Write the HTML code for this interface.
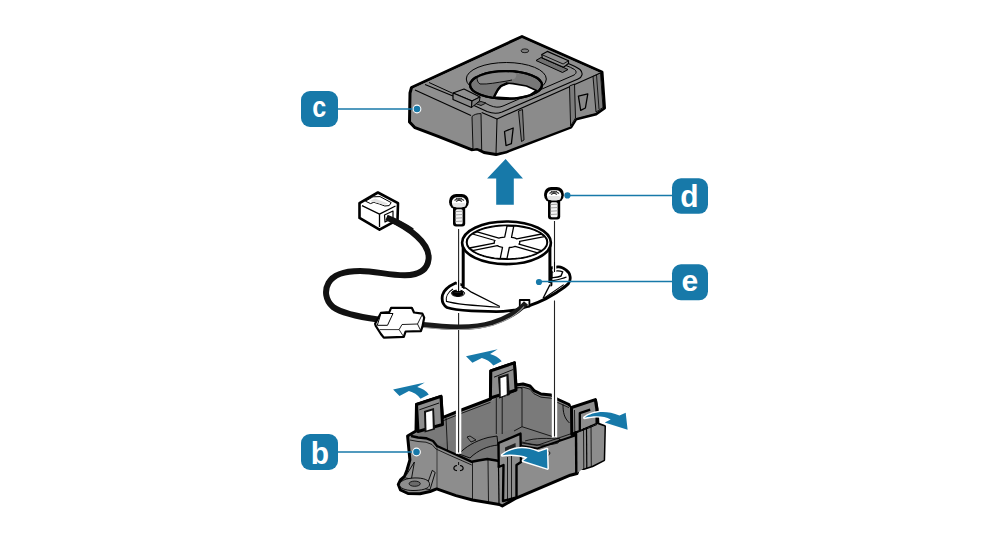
<!DOCTYPE html>
<html><head><meta charset="utf-8">
<style>
html,body{margin:0;padding:0;background:#fff;}
body{width:1000px;height:550px;overflow:hidden;}
svg{display:block;}
.lb{font-family:"Liberation Sans",sans-serif;font-weight:bold;font-size:30px;fill:#fff;}
</style></head><body>
<svg width="1000" height="550" viewBox="0 0 1000 550">
<!-- ===== TOP COVER (c) ===== -->
<g id="cover" stroke="#000" stroke-linejoin="round">
  <polygon points="522,36.5 602,72 604.5,108 596,114 576,119 571,127 524,145 512,149.5 506,152 496,154.5 484,152.5 477,149 471.5,149.7 438.8,136.7 415,127.7 409.5,122 410,93 411.5,87.5" fill="#8c8c8c" stroke-width="3"/>
  <!-- top face -->
  <polygon points="522,38.5 600.5,73 497,119 482,113 471,115.5 415,90 413,88.5" fill="#8f8f8f" stroke="none"/>
  <!-- right face darker -->
  <polygon points="497,119.5 600.5,73.5 603,108 595.5,113 576,118 570.5,126.5 524,144 512,148.5 506,151 496.5,153" fill="#8b8b8b" stroke="none"/>
  <!-- channel left -->
  <path d="M472,116.5 C474,114.5 477,113.5 481,113.6 L481.7,150 L477,148.5 L473,149.2 Z" fill="#808080" stroke-width="0.9"/>
  <line x1="497" y1="119" x2="496" y2="153.5" stroke-width="1"/>
  
  <!-- crease lines -->
  <polyline points="415,90 471,115.5" fill="none" stroke-width="1.1"/>
  <polyline points="481.7,112.5 497,119 600.5,73" fill="none" stroke-width="1.1"/>
  <!-- rim lines -->
  <path d="M425,84.5 L453,96 M473,105 L487,111.5 C492,113.5 497,114 502,112 L578,79 C582.5,77 583.5,73 580,69.5 C576,66.5 571,64.5 566,62.5" fill="none" stroke-width="1.1"/>
  <path d="M429,82.5 L452,93 M486,103.5 L490,105.5 C495,107.5 499,107.8 503,106 L573,75.5 C576.5,74 577,71.5 574.5,69.5 C572,68 569,66.5 566,65.5" fill="none" stroke-width="1"/>
  <!-- hole -->
  <ellipse cx="506.3" cy="79" rx="40" ry="16.5" fill="#8f8f8f" stroke-width="1"/>
  <ellipse cx="506" cy="85" rx="36" ry="13.8" fill="#777" stroke-width="2.2"/>
  <path d="M476,76 C485,72.5 498,71.2 510,71.4 C516,72 518,74 515,78.5 C510,80.5 500,82 492,83.5 C486,84.5 481,84.5 478.5,83 C477,81 476.5,78.5 476,76 Z" fill="#8a8a8a" stroke="none"/>
  <path d="M477,77 C477,80 477.5,82.5 480,84 C488,84.5 497,82.5 507,81 L512,80" fill="none" stroke-width="0.9"/>
  <path d="M494,97 L496,93 L498,89.5 L501,86 L507.5,83.2 L513,83.6 L526.5,86 L536.5,90.5 L530,95 L515,98.5 Z" fill="#fff" stroke="#000" stroke-width="1.6"/>
  <path d="M494,97 L496,93 L498,89.5 L501,86 L507.5,83.2" fill="none" stroke-width="2.4"/>
  <ellipse cx="506" cy="85" rx="36" ry="13.8" fill="none" stroke-width="2.2"/>
  <!-- right face ribs & slots -->
  <path d="M569.5,86 L572,85 L574.5,84 L575.5,118 L570.6,126 Z" fill="#7c7c7c" stroke-width="0.9"/>
  <path d="M593,76.5 L600.5,73 L603,107.5 L596,112 Z" fill="#7c7c7c" stroke-width="0.9"/>
  <line x1="596.5" y1="75" x2="599" y2="109" stroke-width="0.8"/>
  <path d="M518.5,111 L522.5,109.5 L524,140 L521.5,141.5 Z" fill="#7c7c7c" stroke-width="0.9"/>
  <polygon points="504.5,131.5 513.2,128 511.4,143.6 506,145.6" fill="#888" stroke-width="1.3"/>
  <polygon points="578.4,96.2 587.8,93.8 585.4,108 580.7,110.4" fill="#888" stroke-width="1.3"/>
  <!-- right latch -->
  <polygon points="536,60.5 541,57.5 568,69.5 562.5,72.5" fill="#707070" stroke-width="1"/>
  <polygon points="541.8,54.6 547.3,51.4 568.5,60.8 568.5,63.5 563.5,67.2 542.3,58" fill="#8e8e8e" stroke-width="1.2"/>
  <polyline points="541.8,54.6 563.1,64 568.5,60.8 M563.1,64 L563.5,67.2" fill="none" stroke-width="0.9"/>
  <!-- dimple -->
  <ellipse cx="524.9" cy="50.8" rx="3.8" ry="1.9" fill="#7e7e7e" stroke-width="0.8"/>
  
  <!-- left latch -->
  <polygon points="474,103 481,101.5 486,103 481,105.5" fill="#6f6f6f" stroke-width="0.9"/>
  <polygon points="453,93 464,89 480,97 472,101" fill="#8f8f8f" stroke-width="1.2"/>
  <polygon points="453,93 472,101 471.5,107.5 453,99.5" fill="#8a8a8a" stroke-width="1.2"/>
  <polygon points="472,101 480,97 479.5,101 471.5,107.5" fill="#7e7e7e" stroke-width="1"/>
  
</g>
<!-- ===== BLUE UP ARROW ===== -->
<polygon points="505.6,159 523,178.6 513.8,178.6 513.8,204.8 496.2,204.8 496.2,178.6 487.1,178.6" fill="#1779a9"/>





<g id="base" stroke="#000" stroke-linejoin="round">
  <!-- silhouette -->
  <polygon points="407.6,436 416,431 416.5,404.5 441,396.4 442.5,417.7 461.5,410 490.5,399 490.8,370.8 514.4,362.8 516,385 523,384 530,386 534,390.6 541,394 551,395 557,399 569,404.5 570,408 572.5,408 595.6,400.4 597,408.6 598,424 604.5,426.3 603.7,460 592.2,465.8 583.6,468.5 578.6,468.5 577,473.5 570.3,475.2 515,498.6 502.3,506 499.3,504.5 472.5,500 456,495.6 436.7,488.9 430,491.5 420,493.8 408,493.5 400.5,490 398.3,484.5 400.5,480 404.5,476.5 407,470 409.9,459.8" fill="#8d8d8d" stroke-width="3"/>
  <!-- interior back walls -->
  <polygon points="411,436.5 418,433 442.5,420 461.5,412.5 490.5,401.5 516,387.5 523,386.5 530,388.5 534,393 541,396.5 551,397.5 557,401.5 569,406.5 572,410 597,426 577,435 537,448.4 521,445 499,452 496.4,460.5 487.3,459 478.2,460.5 471.8,461.8 437,446.4 434,442" fill="#797979" stroke="none"/>
  <!-- back-right wall (slightly lighter) -->
  <polygon points="522,388 530,388.5 534,393 541,396.5 551,397.5 557,401.5 569,406.5 572,410 573,433 560,439 522,426.7" fill="#7a7a7a" stroke="none"/>
  <!-- floor -->
  <polygon points="436,446 450,441 470,437 498,433.5 522,426.7 560,439 577,435 537,448.4 521,445 499,452 496.4,460.5 487.3,459 478.2,460.5 471.8,461.8" fill="#767676" stroke="none"/>
  <!-- fan seat band -->
  <path d="M459,454 C465,447 475,441 488,437.5 L497,436 L498,445 C488,446 478,450 470,458 Z" fill="#6f6f6f" stroke-width="0.9"/>
  <path d="M467,437 L470,436 L476,440 L471,442 Z" fill="#7a7a7a" stroke-width="0.8"/>
  <path d="M525,441 C535,438 548,437.5 562,440" fill="none" stroke-width="0.8"/>
  <path d="M522,442 C536,446 548,446 558,443 L560,439" fill="#6f6f6f" stroke-width="0.8"/>
  <!-- lip lines -->
  <polyline points="443,420.8 461.5,413.3 490.5,402.3" fill="none" stroke-width="0.8"/>
  <polyline points="516.5,388.2 523,387.2 530,389.2 534,393.8 541,397.2 551,398.2 557,402.2 569,407.7" fill="none" stroke-width="0.8"/>
  <!-- interior vertical lines -->
  <g stroke-width="0.8" fill="none">
    <line x1="446" y1="418" x2="447.5" y2="450"/>
    <line x1="496.3" y1="398" x2="496.3" y2="434"/>
    <line x1="502.2" y1="396" x2="502.2" y2="434"/>
    <line x1="522" y1="388" x2="522" y2="426.7"/>
    <line x1="522" y1="426.7" x2="560" y2="439"/>
    <line x1="522" y1="426.7" x2="514" y2="431"/>
    <path d="M516,388 C519,387 521,387.5 522,388.5"/>
  </g>
  <!-- front walls top edges -->
  <polyline points="411,436 418,437.5 426,438.2 433,441 437,446 448,451 460,456.4 471.8,461.8 478.2,460.5 487.3,459 496.4,460.5 498.5,461" fill="none" stroke-width="2.4"/>
  <polyline points="410,440 418,441.5 426,442.2 432,444.5 436,449 448,454.5 460,459.8 471.8,465" fill="none" stroke-width="0.8"/>
  <polyline points="521.5,446 537,448.6 576.5,435" fill="none" stroke-width="2"/>
  <polyline points="521.5,443 537,445.4 576,432" fill="none" stroke-width="0.8"/>
  <!-- tab A -->
  <polygon points="416.5,404.5 441,396.4 442.5,424.5 418,431.5" fill="#8d8d8d" stroke-width="3"/>
  <line x1="419.3" y1="409.8" x2="439" y2="403" stroke-width="0.9"/>
  <polygon points="424,411 434,408 435,429.5 424.6,432.5" fill="#111" stroke="none"/>
  <polygon points="426,412.5 432.3,410.5 432.8,428.5 426.5,430.5" fill="#fff" stroke="none"/>
  <!-- tab B -->
  <polygon points="490.8,370.8 514.4,362.8 516,390 490.4,398" fill="#8d8d8d" stroke-width="3"/>
  <line x1="494" y1="377.2" x2="513.2" y2="369.5" stroke-width="0.9"/>
  <polygon points="498,376.8 508.5,373.5 509.8,395 499.4,398.3" fill="#111" stroke="none"/>
  <polygon points="500.4,378.3 506.4,376.3 506.8,395.2 500.8,397" fill="#fff" stroke="none"/>
  <line x1="499" y1="398" x2="516" y2="391" stroke-width="0.9"/>
  <!-- tab C -->
  <path d="M563,404.5 C563,412 564,418 569.5,423" fill="none" stroke-width="0.9"/>
  <polygon points="571.5,407.5 595.3,399.6 596.8,409 597,424 581,431 571.8,434.5" fill="#8d8d8d" stroke-width="3"/>
  <path d="M579.8,430 L579.8,413.2 L590.2,409.6" fill="none" stroke-width="2.3"/>
  <line x1="574.5" y1="410" x2="574.8" y2="433" stroke-width="0.8"/>
  <!-- right wall end -->
  <polygon points="576,433 597,424 604.5,426.5 603.7,460 592.2,465.8 583.6,468.5 577,473" fill="#8d8d8d" stroke="none"/>
  <line x1="576" y1="431" x2="576.3" y2="474" stroke-width="2.4"/>
  <line x1="583.5" y1="428" x2="583.8" y2="469" stroke-width="0.8"/>
  <line x1="586.5" y1="427" x2="586.8" y2="468" stroke-width="1.2"/>
  <line x1="591" y1="425" x2="591.3" y2="466" stroke-width="0.8"/>
  <polyline points="576,433 583.5,430 590,427.5 597,424.5" fill="none" stroke-width="1"/>
  <!-- tab D -->
  <polygon points="498.5,443 520.5,433.6 521,462 516.5,465 516.5,497.5 503,501 503.5,465 498.7,467" fill="#8d8d8d" stroke-width="2.4"/>
  <polygon points="505,447.5 515.5,443 515.8,449 505.3,453.5" fill="#222" stroke="none"/>
  <line x1="507.5" y1="457" x2="507.5" y2="499" stroke-width="0.8"/>
  <line x1="511.5" y1="456" x2="511.5" y2="498" stroke-width="0.8"/>
  <!-- front corner & vertical edges -->
  <line x1="498.5" y1="466" x2="499" y2="503" stroke-width="1.2"/>
  <line x1="472.5" y1="462" x2="472.5" y2="500" stroke-width="0.8"/>
  <line x1="488" y1="460" x2="488.5" y2="502" stroke-width="0.8"/>
  <line x1="437" y1="447" x2="437" y2="489" stroke-width="0.6"/>
  <!-- screw marks -->
  <path d="M457,465.5 C453,466 452.5,470 457,470.8 M460,465.5 C464,466 464.5,470 460,470.8" fill="none" stroke-width="1.1"/>
  <line x1="458.6" y1="462" x2="458.6" y2="465" stroke-width="0.9"/>
  <path d="M544,450.5 C540.5,451 540,455 544,455.6 M547,450.5 C550.5,451 551,455 547,455.6" fill="none" stroke-width="0.9"/>
  <!-- gussets near foot -->
  <polygon points="414.4,462 404.7,477.7 411.4,479.2" fill="#939393" stroke-width="0.9"/>
  <polygon points="432.3,470.3 435.2,472.5 430,489.6 425.5,488.9" fill="#939393" stroke-width="0.9"/>
  <!-- foot -->
  <path d="M399.5,484 C401,479.5 410,477.5 418,478 C426,478.5 430,481 429.5,485 C429,489 421,490.5 413,490.5 C405,490.5 399,488 399.5,484 Z" fill="#8d8d8d" stroke-width="0.9"/>
  <ellipse cx="414.7" cy="483.7" rx="5.6" ry="2.6" fill="#6a6a6a" stroke-width="0.8"/>
</g>
<g id="barrows" fill="#1779a9">
  <path d="M393.1,389.5 L424.8,382.4 L417.2,387.1 Q424.5,389 428.8,394.4 L420.5,398.7 Q416,393 408.9,391.1 L399.5,395.9 Z"/>
  <path transform="translate(72.9,-33.2)" d="M393.1,389.5 L424.8,382.4 L417.2,387.1 Q424.5,389 428.8,394.4 L420.5,398.7 Q416,393 408.9,391.1 L399.5,395.9 Z"/>
  <g stroke="#fff" stroke-width="3" paint-order="stroke" stroke-linejoin="round">
  <path d="M584.5,417.7 C592,412 605,409.5 619.5,415.5 L625.7,412.8 L627.6,429.7 L604.7,422.4 L610.7,419.4 C604,415.5 594,415.5 584.5,417.7 Z"/>
  <path d="M502.3,455.2 C510,449 522,445 538.6,451.9 L546.9,449.2 L547.4,468.4 L523.2,460.7 L527.6,457.4 C520,454.5 510,454 502.3,455.2 Z"/>
  </g>
</g>
<g id="guides" stroke-linecap="butt">
  <g stroke="#fff" stroke-width="5.4">
    <line x1="458.6" y1="314" x2="458.6" y2="453.7"/>
    <line x1="554.5" y1="300.5" x2="554.5" y2="437.6"/>
  </g>
  <g stroke="#222" stroke-width="1.1">
    <line x1="458.6" y1="229" x2="458.6" y2="293"/>
    <line x1="458.6" y1="313" x2="458.6" y2="452.5"/>
    <line x1="554.5" y1="221" x2="554.5" y2="272"/>
    <line x1="554.5" y1="300.5" x2="554.5" y2="436.5"/>
  </g>
</g>
<g id="fan" stroke="#000" stroke-linejoin="round">
  <path d="M455.6,283 C449,286 444,289.5 442.5,295 C441.5,300 443,305 447,307.5 C452,309.5 462,310.3 471.4,310.8 L496.5,311.6 C505,311.5 512,310.5 516,309.8 C530,306 545,300 555,293.5 C561,289.5 566,286.5 568.5,283.5 C571.5,279.5 570.5,273 566,270 C563,267.5 560,266.5 557.8,266.9 L551,268 L551,285 L462,285 Z" fill="#fff" stroke-width="2.8"/>
  <rect x="462.6" y="243" width="87.8" height="45" fill="#fff" stroke="none"/>
  <line x1="463.2" y1="243" x2="463.2" y2="288" stroke-width="3"/>
  <line x1="549.9" y1="243" x2="549.9" y2="283" stroke-width="3"/>
  <path d="M463,288 L465.6,288 L471.4,292.2 L499.9,306.5" fill="none" stroke-width="1.3"/>
  <path d="M453,289 C448,292 445.5,297 446.4,301.4 C455,304 470,305.5 499.9,307.3" fill="none" stroke-width="1.1"/>
  
  <ellipse cx="458" cy="293.3" rx="6.6" ry="3.2" fill="#fff" stroke-width="1"/>
  <ellipse cx="457.8" cy="293.1" rx="4.8" ry="2.2" fill="#222" stroke-width="2"/>
  <path d="M452.5,293 L462.7,293 L462,295 L453,295 Z" fill="#000" stroke="none"/>
  <path d="M550,284.6 L543.1,298.3" fill="none" stroke-width="1.3"/>
  <path d="M563.7,284.6 L544,298.3" fill="none" stroke-width="1.1"/>
  <path d="M566,285.6 L545,299.6" fill="none" stroke-width="1.1"/>
  <path d="M552,272 C555,270.5 560,270.5 562.7,271.8 L561,276 C558,277.5 554,277.5 552,277.7 Z" fill="#fff" stroke-width="1.4"/>
  <path d="M551,281 C556,280 562,279 566.5,277" fill="none" stroke-width="1.3"/>
  <!-- top -->
  <ellipse cx="506.5" cy="242.8" rx="44.4" ry="21.3" fill="#fff" stroke-width="2.6"/>
  <ellipse cx="507" cy="242.3" rx="40.2" ry="16.7" fill="#fff" stroke-width="2.2"/>
  <polygon points="541.5,250.6 542.9,249.6 544.1,248.5 545.0,247.3 545.8,246.1 546.4,245.0 546.7,243.7 546.9,242.5 546.8,241.3 546.6,240.1 546.1,238.9 545.4,237.7 544.5,236.6 519.6,241.4 519.8,242.3 519.6,243.2 519.0,244.1" fill="#fff" stroke="#000" stroke-width="1.3"/>
  <polygon points="541.6,234.0 540.1,233.0 538.3,232.0 536.4,231.1 534.4,230.2 532.2,229.4 529.9,228.7 527.4,228.0 524.9,227.5 522.2,227.0 519.5,226.5 516.7,226.2 513.8,225.9 511.5,237.3 513.4,237.7 515.2,238.2 516.7,238.9" fill="#fff" stroke="#000" stroke-width="1.3"/>
  <polygon points="507.1,225.7 504.2,225.7 501.3,225.9 498.4,226.1 495.6,226.4 492.8,226.8 490.1,227.3 487.5,227.8 485.1,228.4 482.7,229.1 480.4,229.9 478.3,230.8 476.4,231.7 498.9,238.2 500.6,237.7 502.6,237.3 504.7,237.1" fill="#fff" stroke="#000" stroke-width="1.3"/>
  <polygon points="472.5,234.0 471.1,235.0 469.9,236.1 469.0,237.3 468.2,238.5 467.6,239.6 467.3,240.9 467.1,242.1 467.2,243.3 467.4,244.5 467.9,245.7 468.6,246.9 469.5,248.0 494.4,243.2 494.2,242.3 494.4,241.4 495.0,240.5" fill="#fff" stroke="#000" stroke-width="1.3"/>
  <polygon points="472.4,250.6 473.9,251.6 475.7,252.6 477.6,253.5 479.6,254.4 481.8,255.2 484.1,255.9 486.6,256.6 489.1,257.1 491.8,257.6 494.5,258.1 497.3,258.4 500.2,258.7 502.5,247.3 500.6,246.9 498.8,246.4 497.3,245.7" fill="#fff" stroke="#000" stroke-width="1.3"/>
  <polygon points="506.9,258.9 509.8,258.9 512.7,258.7 515.6,258.5 518.4,258.2 521.2,257.8 523.9,257.3 526.5,256.8 528.9,256.2 531.3,255.5 533.6,254.7 535.7,253.8 537.6,252.9 515.1,246.4 513.4,246.9 511.4,247.3 509.3,247.5" fill="#fff" stroke="#000" stroke-width="1.3"/>

  <!-- cable block -->
  <rect x="519.8" y="300" width="9.6" height="6.5" fill="#fff" stroke-width="1.8"/>
</g>
<g id="guides2">
  <line x1="458.6" y1="280" x2="458.6" y2="291" stroke="#fff" stroke-width="3.6"/>
  <line x1="458.6" y1="280" x2="458.6" y2="292" stroke="#000" stroke-width="1.1"/>
  <line x1="554.5" y1="262" x2="554.5" y2="272" stroke="#fff" stroke-width="3.6"/>
  <line x1="554.5" y1="262" x2="554.5" y2="272" stroke="#000" stroke-width="1.1"/>
</g>
<g id="cable" stroke-linejoin="round">
  <path d="M386.5,217.5 C410,228 430,243 428.6,259 C427.5,270 419,275 405,275.3 C390,275.5 375,271 360,271 C345,271 333,275 328.5,283 C324.5,290 325,300 333,307 C342,313.5 360,317 378,319.5" fill="none" stroke="#111" stroke-width="6"/>
  <path d="M420,324.5 C445,327 472,329.5 492,323 C508,318 519,311 526,303" fill="none" stroke="#1a1a1a" stroke-width="5.4"/>
  <path d="M421,327.2 C445,329.6 472,331.5 493,325.3 C508,320.5 518,313.5 524,306.5" fill="none" stroke="#a0a0a0" stroke-width="1.1"/>
  <!-- RJ connector -->
  <polygon points="377.9,192.5 398,203.1 397.5,219.9 379.5,229.7 359.5,217.9 359.5,203.1" fill="#fff" stroke="#000" stroke-width="2.6"/>
  <polyline points="362,205.6 379.5,214.2 395.5,206" fill="none" stroke="#000" stroke-width="1.3"/>
  <line x1="379.5" y1="214.2" x2="379.5" y2="227" stroke="#000" stroke-width="1.3"/>
  <polygon points="365.5,201.2 373,196.8 380,196.6 391.2,202.6 389.2,205.6 384.8,206 379.5,204 373.8,202.3 370.5,203.6" fill="#fff" stroke="#000" stroke-width="1"/>
  <polygon points="370,201 375,198.5 388,203.5 384.5,205" fill="#e2e2e2" stroke="none"/>
  <polygon points="384.5,215 393,211 393,218 385,222" fill="#fff" stroke="#000" stroke-width="1.2"/>
  <path d="M386.5,217.5 C395,221 405,226 412,231" fill="none" stroke="#111" stroke-width="6"/>
  <!-- inline connector -->
  <polygon points="375.1,323.8 380.9,312.9 389.3,312.2 391.1,307.8 411.8,307.8 414,312.5 422.4,313.6 424.2,317.6 422.4,326.7 420.9,331.1 405.6,331.5 403.8,336.9 383.8,337.6 380.9,334 375.8,326" fill="#fff" stroke="#000" stroke-width="2.2"/>
  <polygon points="380.9,313.5 393,313.5 387.5,325.3 377.3,325.3" fill="#fff" stroke="#000" stroke-width="1"/>
  <polyline points="379.5,329.6 399.1,329.6 403.5,336.5" fill="none" stroke="#000" stroke-width="0.8"/>
  <polyline points="399.1,329.6 402,324.5 417.5,324 422,315" fill="none" stroke="#000" stroke-width="0.9"/>
  <polyline points="417.5,324 420.9,331" fill="none" stroke="#000" stroke-width="0.9"/>
</g>
<g id="screws">
  <g id="screw1">
    <rect x="453" y="205" width="12.2" height="21.6" rx="3" fill="#000"/>
    <rect x="449.1" y="194" width="19.7" height="15.2" rx="7" fill="#000"/>
    <rect x="455.6" y="209.2" width="7" height="15" rx="1.5" fill="#f4f4f4"/>
    <g stroke="#9a9a9a" stroke-width="0.9"><line x1="455.6" y1="211.6" x2="462.6" y2="211.2"/><line x1="455.6" y1="214.9" x2="462.6" y2="214.5"/><line x1="455.6" y1="218.2" x2="462.6" y2="217.8"/><line x1="455.6" y1="221.5" x2="462.6" y2="221.1"/></g>
    <rect x="451.9" y="197.2" width="14.4" height="10.2" rx="5" fill="#fff"/>
    <rect x="452.5" y="203" width="13.2" height="4" rx="2" fill="#e6e6e6"/>
    <path d="M454.5,200.5 Q459,196.5 464,200.5 M456,198.2 L462,201.6 M462,198.2 L456,201.6" fill="none" stroke="#333" stroke-width="1.1"/>
  </g>
  <g transform="translate(95,-7)">
    <rect x="453" y="205" width="12.2" height="21.6" rx="3" fill="#000"/>
    <rect x="449.1" y="194" width="19.7" height="15.2" rx="7" fill="#000"/>
    <rect x="455.6" y="209.2" width="7" height="15" rx="1.5" fill="#f4f4f4"/>
    <g stroke="#9a9a9a" stroke-width="0.9"><line x1="455.6" y1="211.6" x2="462.6" y2="211.2"/><line x1="455.6" y1="214.9" x2="462.6" y2="214.5"/><line x1="455.6" y1="218.2" x2="462.6" y2="217.8"/><line x1="455.6" y1="221.5" x2="462.6" y2="221.1"/></g>
    <rect x="451.9" y="197.2" width="14.4" height="10.2" rx="5" fill="#fff"/>
    <rect x="452.5" y="203" width="13.2" height="4" rx="2" fill="#e6e6e6"/>
    <path d="M454.5,200.5 Q459,196.5 464,200.5 M456,198.2 L462,201.6 M462,198.2 L456,201.6" fill="none" stroke="#333" stroke-width="1.1"/>
  </g>
</g>
<!-- ===== LABELS ===== -->
<g fill="#1779a9">
  <rect x="301" y="91" width="37" height="36" rx="9"/>
  <rect x="301" y="434" width="37" height="36" rx="9"/>
  <rect x="672" y="178.3" width="36" height="35.5" rx="9"/>
  <rect x="672" y="264.3" width="36" height="36" rx="9"/>
</g>
<g stroke="#1779a9" stroke-width="1.6">
  <line x1="338" y1="109" x2="417" y2="109"/>
  <line x1="338" y1="452" x2="416.5" y2="452"/>
  <line x1="567" y1="195.5" x2="672" y2="195.5"/>
  <line x1="539" y1="281.5" x2="672" y2="281.5"/>
</g>
<g fill="#1779a9">
  <circle cx="417" cy="109" r="4.4" fill="#fff"/>
  <circle cx="416.5" cy="452" r="4.4" fill="#fff"/>
  <circle cx="417" cy="109" r="3.3"/>
  <circle cx="416.5" cy="452" r="3.3"/>
  <circle cx="567.4" cy="195.4" r="3.1"/>
  <circle cx="539" cy="282" r="3.1"/>
</g>
<g class="lb" text-anchor="middle">
  <text transform="translate(319.3,117) scale(0.84,1)">c</text>
  <text transform="translate(320,464) scale(0.95,1)" style="font-size:31.5px">b</text>
  <text transform="translate(689.5,206.8) scale(0.95,1)" style="font-size:31.5px">d</text>
  <text x="689.8" y="291">e</text>
</g>
</svg>
</body></html>
